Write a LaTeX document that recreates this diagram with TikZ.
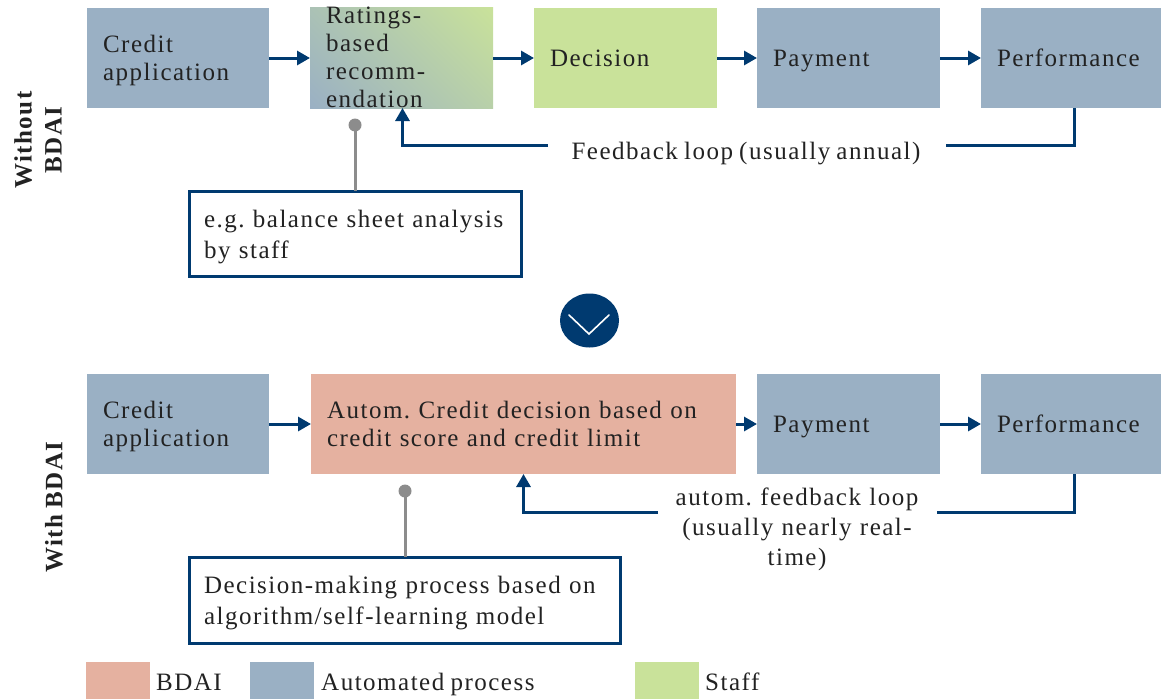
\documentclass[tikz,border=0pt]{standalone}
\usepackage{fontspec}
\setmainfont[LetterSpace=6,WordSpace=0.8]{Liberation Serif}
\usetikzlibrary{arrows.meta,shapes.geometric}
\definecolor{procblue}{HTML}{9AB0C4}
\definecolor{staffgreen}{HTML}{C9E29A}
\definecolor{bdaired}{HTML}{E5B1A0}
\definecolor{navy}{HTML}{003A70}
\definecolor{pingray}{HTML}{8C8C8C}
\definecolor{ink}{HTML}{222222}
\pgfdeclareverticalshading{recgrad}{100bp}{color(0bp)=(procblue); color(14.6bp)=(procblue); color(85.4bp)=(staffgreen); color(100bp)=(staffgreen)}
\newcommand\tstrut{\rule[-6pt]{0pt}{28pt}}
\newcommand\nstrut{\rule[-5pt]{0pt}{29pt}}
\tikzset{
  base/.style={font=\fontsize{25}{28}\selectfont\frenchspacing,text=ink},
  txt/.style={execute at begin node=\tstrut,execute at end node=\tstrut},
  proc/.style={base,txt,anchor=north west,inner xsep=16pt,inner ysep=0pt,align=left,minimum height=100pt,outer sep=0pt},
  flow/.style={draw=navy,line width=3pt,-{Triangle[length=13pt,width=14pt]}},
  plainflow/.style={draw=navy,line width=3pt},
  note/.style={base,font=\fontsize{25}{31}\selectfont\frenchspacing,execute at begin node=\nstrut,execute at end node=\nstrut,draw=navy,line width=3pt,fill=white,anchor=north west,inner xsep=15pt,inner ysep=0pt,align=left,outer sep=0pt},
  pin/.style={draw=pingray,line width=3pt},
  pindot/.style={circle,fill=pingray,minimum size=13pt,inner sep=0pt,outer sep=0pt},
  swatch/.style={anchor=north west,minimum width=64pt,minimum height=37pt,inner sep=0pt,outer sep=0pt},
  legendtext/.style={base,txt,anchor=west,inner sep=0pt},
  side/.style={base,font=\fontsize{25}{30}\selectfont\bfseries\frenchspacing,rotate=90,align=center,inner sep=0pt},
  looplabel/.style={base,txt,font=\fontsize{25}{30}\selectfont\frenchspacing,align=center,inner sep=0pt}
}
\begin{document}
\begin{tikzpicture}[x=1pt,y=-1pt]
\path[use as bounding box] (0,0) rectangle (1161,699);
% top row
\node[proc,fill=procblue,text width=150pt] (app1) at (87,8) {Credit\\application};
\node[anchor=north west,shade,shading=recgrad,shading angle=-45,minimum width=183pt,minimum height=101pt,inner sep=0pt,outer sep=0pt] (rec) at (310,7) {};
\node[base,txt,align=left,text width=151pt,inner sep=0pt,anchor=center] (rectext) at (rec.center) {Ratings-\\based\\recomm-\\endation};
\node[proc,fill=staffgreen,text width=151pt] (dec) at (534,8) {Decision};
\node[proc,fill=procblue,text width=151pt] (pay1) at (757,8) {Payment};
\node[proc,fill=procblue,text width=148pt] (perf1) at (981,8) {Performance};
\draw[flow] (app1.east) -- (rec.west |- app1.east);
\draw[flow] (rec.east |- dec.west) -- (dec.west);
\draw[flow] (dec.east) -- (pay1.west);
\draw[flow] (pay1.east) -- (perf1.west);
\node[looplabel] (loop1) at (746,151) {Feedback loop (usually annual)};
\coordinate (gap1r) at (946,145.5);
\coordinate (gap1l) at (548,145.5);
\draw[plainflow] ([xshift=3pt]perf1.south) |- (gap1r);
\draw[flow] (gap1l) -| ([xshift=1pt]rec.south);
\node[note,text width=302pt,minimum height=85pt] (note1) at (189,191) {e.g. balance sheet analysis\\by staff};
\node[pindot] (dot1) at (355,125) {};
\draw[pin] (dot1.center) -- (dot1.center |- note1.north);
\node[side] (without) at (38,140) {Without\\BDAI};
% transition
\node[ellipse,fill=navy,minimum width=59pt,minimum height=54pt,inner sep=0pt] (turn) at (589.5,320.5) {};
\coordinate (cha) at (569,315);
\coordinate (chb) at (589,334);
\coordinate (chc) at (609,315);
\draw[white,line width=1.6pt,line cap=round,line join=miter] (cha) -- (chb) -- (chc);
% bottom row
\node[proc,fill=procblue,text width=150pt] (app2) at (87,374) {Credit\\application};
\node[proc,fill=bdaired,text width=393pt] (auto) at (311,374) {Autom. Credit decision based on\\credit score and credit limit};
\node[proc,fill=procblue,text width=151pt] (pay2) at (757,374) {Payment};
\node[proc,fill=procblue,text width=148pt] (perf2) at (981,374) {Performance};
\draw[flow] (app2.east) -- (auto.west);
\draw[flow] (auto.east) -- (pay2.west);
\draw[flow] (pay2.east) -- (perf2.west);
\node[looplabel,text width=250pt] (loop2) at (797,527) {autom. feedback loop\\(usually nearly real-\\time)};
\coordinate (gap2r) at (937,512);
\coordinate (gap2l) at (658,512);
\draw[plainflow] ([xshift=3pt]perf2.south) |- (gap2r);
\draw[flow] (gap2l) -| (auto.south);
\node[note,text width=401pt,minimum height=86pt] (note2) at (189,557) {Decision-making process based on\\algorithm/self-learning model};
\node[pindot] (dot2) at (405,491) {};
\draw[pin] (dot2.center) -- (dot2.center |- note2.north);
\node[side] (with) at (54,507) {With BDAI};
% legend
\node[swatch,fill=bdaired] (k1) at (86,662) {};
\node[legendtext] (t1) at (156,682) {BDAI};
\node[swatch,fill=procblue] (k2) at (250,662) {};
\node[legendtext] (t2) at (321,682) {Automated process};
\node[swatch,fill=staffgreen] (k3) at (635,662) {};
\node[legendtext] (t3) at (705,682) {Staff};
\end{tikzpicture}
\end{document}
